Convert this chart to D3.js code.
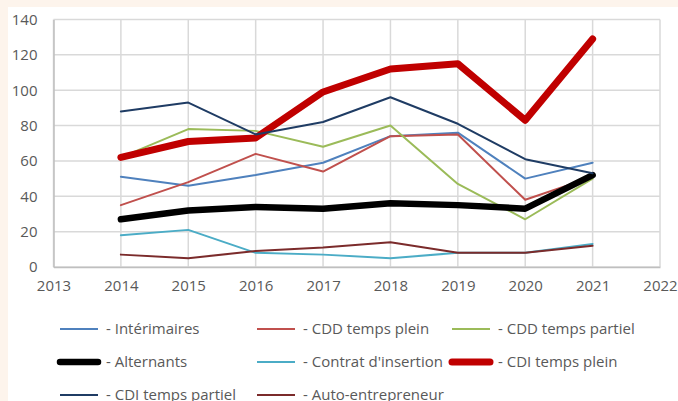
<!DOCTYPE html>
<html>
<head>
<meta charset="utf-8">
<script src="https://cdn.jsdelivr.net/npm/d3@7"></script>
<style>
  html, body { margin: 0; padding: 0; background: #fdf4ec; }
  #chart { position: absolute; left: 8px; top: 7px; width: 670px; height: 394px; background: #ffffff; }
  svg { position: absolute; left: -8px; top: -7px; }
  text { font-family: "Open Sans", sans-serif; fill: #595959; }
</style>
</head>
<body>
<div id="chart"></div>
<script>
// data
const years = [2014, 2015, 2016, 2017, 2018, 2019, 2020, 2021]
const xTicks = [2013, 2014, 2015, 2016, 2017, 2018, 2019, 2020, 2021, 2022]
const yTicks = [0, 20, 40, 60, 80, 100, 120, 140]

const seriesNames = ["- Intérimaires", "- CDD temps plein", "- CDD temps partiel",
  "- Alternants", "- Contrat d'insertion", "- CDI temps plein",
  "- CDI temps partiel", "- Auto-entrepreneur"]
const interimaires = [51, 46, 52, 59, 74, 76, 50, 59]
const cddPlein = [35, 48, 64, 54, 74, 75, 38, 51]
const cddPartiel = [62, 78, 77, 68, 80, 47, 27, 50]
const alternants = [27, 32, 34, 33, 36, 35, 33, 52]
const contratInsertion = [18, 21, 8, 7, 5, 8, 8, 13]
const cdiPlein = [62, 71, 73, 99, 112, 115, 83, 129]
const cdiPartiel = [88, 93, 75, 82, 96, 81, 61, 53]
const autoEntrepreneur = [7, 5, 9, 11, 14, 8, 8, 12]

const allValues = [interimaires, cddPlein, cddPartiel, alternants,
  contratInsertion, cdiPlein, cdiPartiel, autoEntrepreneur]
const colors = ["#4f81bd", "#c0504d", "#9bbb59", "#000000", "#4bacc6", "#c00000", "#1f3c64", "#7b2b2b"]
const widths = [2, 2, 2, 6.5, 2, 7, 2, 2]

const series = seriesNames.map((name, i) => ({
  name: name,
  color: colors[i],
  width: widths[i],
  values: years.map((y, j) => ({ year: y, value: allValues[i][j] }))
}))

const svg = d3.select("#chart").append("svg")
  .attr("width", 678)
  .attr("height", 401)

const x = d3.scaleLinear().domain([2013, 2022]).range([53.5, 660])
const y = d3.scaleLinear().domain([0, 140]).range([267, 19.5])

// grid
svg.append("g")
  .selectAll("line.v")
  .data(xTicks)
  .join("line")
  .attr("x1", d => x(d)).attr("x2", d => x(d))
  .attr("y1", y(0)).attr("y2", y(140))
  .attr("stroke", "#d9d9d9").attr("stroke-width", 1.5)
svg.append("g")
  .selectAll("line.h")
  .data(yTicks)
  .join("line")
  .attr("x1", x(2013)).attr("x2", x(2022))
  .attr("y1", d => y(d)).attr("y2", d => y(d))
  .attr("stroke", "#d9d9d9").attr("stroke-width", 1.5)

// axes labels
const yAxis = svg.append("g")
  .attr("transform", "translate(" + x(2013) + ",0)")
  .call(d3.axisLeft(y).tickValues(yTicks).tickSize(0).tickPadding(16))
yAxis.select(".domain").attr("stroke", "#bfbfbf").attr("stroke-width", 1.5)
yAxis.selectAll("text").style("font-size", "15px").attr("fill", "#595959")

const xAxis = svg.append("g")
  .attr("transform", "translate(0," + y(0) + ")")
  .call(d3.axisBottom(x).tickValues(xTicks).tickFormat(d3.format("d")).tickSize(0).tickPadding(13))
xAxis.select(".domain").attr("stroke", "#bfbfbf").attr("stroke-width", 1.5)
xAxis.selectAll("text").style("font-size", "15px").attr("fill", "#595959")

// lines
const line = d3.line()
  .x(d => x(d.year))
  .y(d => y(d.value))

svg.append("g")
  .selectAll("path")
  .data(series)
  .join("path")
  .attr("d", d => line(d.values))
  .attr("fill", "none")
  .attr("stroke", d => d.color)
  .attr("stroke-width", d => d.width)
  .attr("stroke-linejoin", "round")
  .attr("stroke-linecap", "round")

// legend
const legendCols = [60, 257, 452]
const legendRows = [329, 362, 395]
const legend = svg.append("g")
  .selectAll("g")
  .data(series)
  .join("g")
  .attr("transform", (d, i) => "translate(" + legendCols[i % 3] + "," + legendRows[Math.floor(i / 3)] + ")")
legend.append("line")
  .attr("x1", d => d.width > 3 ? 0 : 0).attr("x2", 38)
  .attr("stroke", d => d.color)
  .attr("stroke-width", d => d.width)
  .attr("stroke-linecap", d => d.width > 3 ? "round" : "butt")
legend.append("text")
  .attr("x", 46)
  .attr("dy", "0.35em")
  .style("font-size", "15px")
  .text(d => d.name)
</script>
</body>
</html>
